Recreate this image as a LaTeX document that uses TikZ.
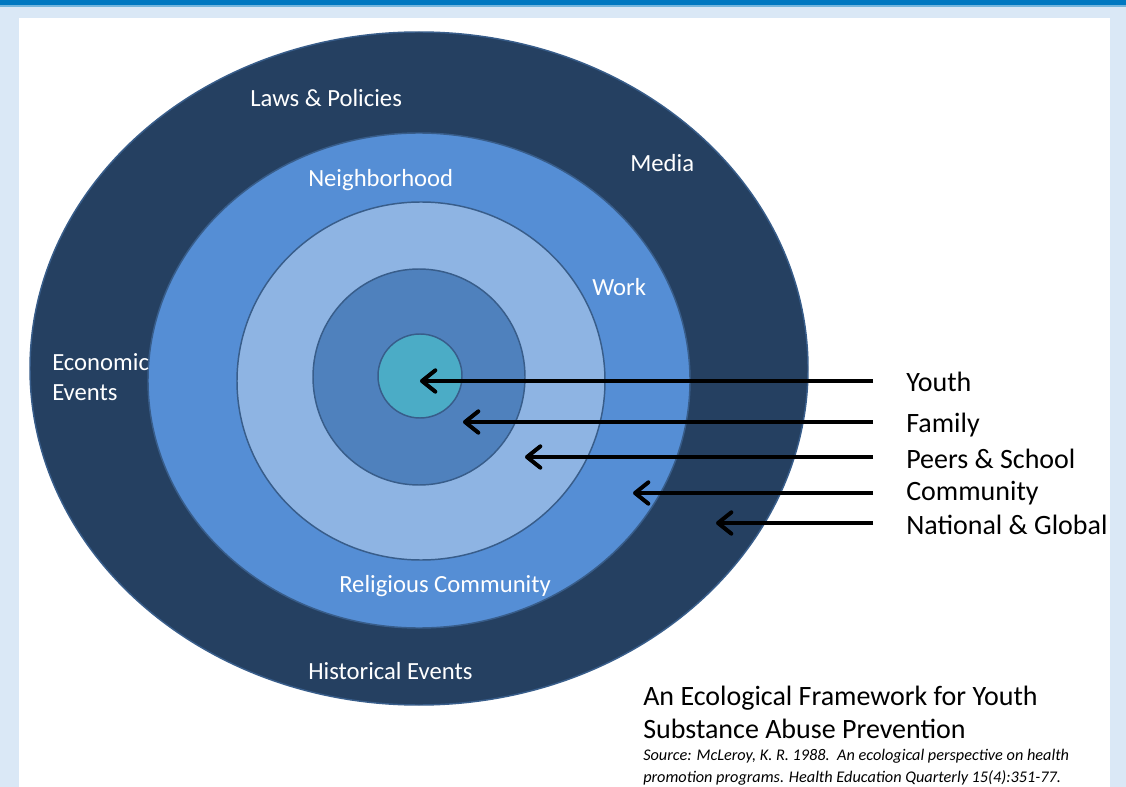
\documentclass[tikz,border=0pt]{standalone}
\usepackage{fontspec}
\setmainfont{Carlito}
\usetikzlibrary{arrows.meta}

\definecolor{barblue}{HTML}{0078C1}
\definecolor{panelbg}{HTML}{DAE8F6}
\definecolor{navy}{HTML}{254061}
\definecolor{midblue}{HTML}{558ED5}
\definecolor{paleblue}{HTML}{8EB4E3}
\definecolor{steelblue}{HTML}{4F81BD}
\definecolor{youthcol}{HTML}{4BACC6}
\definecolor{ringedge}{HTML}{385D8A}

\begin{document}
\begin{tikzpicture}[x=0.75pt, y=-0.75pt,
    ring/.style={draw=ringedge, line width=1.1pt},
    inlbl/.style={text=white, font=\fontsize{18.5}{22.5}\selectfont, inner sep=0pt, anchor=base west},
    lvl/.style={font=\fontsize{21}{25}\selectfont, inner sep=0pt, anchor=base west},
    arr/.style={line width=3pt, -{Straight Barb[length=10pt, width=16pt, round]}}]
    \useasboundingbox (0,0) rectangle (1126,787);

    % page frame
    \fill[panelbg] (0,0) rectangle (1126,787);
    \fill[barblue] (0,0) rectangle (1126,5.5);
    \fill[barblue!55] (0,5.5) rectangle (1126,7);
    \fill[white] (19,18) rectangle (1110,787);

    % nested rings, outside in
    \filldraw[ring, fill=navy] (419,368.5) ellipse [x radius=389, y radius=336.5];
    \filldraw[ring, fill=midblue] (419,380.5) ellipse [x radius=271, y radius=247.5];
    \filldraw[ring, fill=paleblue] (421,381) ellipse [x radius=184, y radius=179];
    \filldraw[ring, fill=steelblue] (419,377) ellipse [x radius=106, y radius=108];
    \filldraw[ring, fill=youthcol] (420,376) circle [radius=42];

    % labels inside the rings
    \node[inlbl] (laws) at (250,107) {Laws \& Policies};
    \node[inlbl] (media) at (630,172) {Media};
    \node[inlbl] (nbhd) at (308,187) {Neighborhood};
    \node[inlbl] (work) at (592,296) {Work};
    \node[inlbl, align=left] (econ) at (52,400) {Economic\\Events};
    \node[inlbl] (relig) at (339,592) {Religious Community};
    \node[inlbl] (hist) at (308,679) {Historical Events};

    % level names on the right
    \node[lvl] (youth) at (906,391) {Youth};
    \node[lvl] (family) at (906,432) {Family};
    \node[lvl] (peers) at (906,468) {Peers \& School};
    \node[lvl] (comm) at (906,500) {Community};
    \node[lvl] (natl) at (906,534) {National \& Global};

    % arrows into the rings
    \coordinate (youth-s) at (873,381);  \coordinate (youth-e) at (420,381);
    \coordinate (family-s) at (873,422); \coordinate (family-e) at (463,422);
    \coordinate (peers-s) at (873,457);  \coordinate (peers-e) at (525,457);
    \coordinate (comm-s) at (873,493);   \coordinate (comm-e) at (633,493);
    \coordinate (natl-s) at (873,523);   \coordinate (natl-e) at (716,523);
    \draw[arr] (youth-s) -- (youth-e);
    \draw[arr] (family-s) -- (family-e);
    \draw[arr] (peers-s) -- (peers-e);
    \draw[arr] (comm-s) -- (comm-e);
    \draw[arr] (natl-s) -- (natl-e);

    % title and source
    \node[lvl] (title1) at (643,705) {An Ecological Framework for Youth};
    \node[lvl] (title2) at (643,738) {Substance Abuse Prevention};
    \node[lvl, font=\fontsize{12.2}{14}\itshape] (src1) at (643,760) {Source: McLeroy, K. R. 1988.\ \ An ecological perspective on health};
    \node[lvl, font=\fontsize{12.2}{14}\itshape] (src2) at (643,782) {promotion programs. Health Education Quarterly 15(4):351-77.};
\end{tikzpicture}
\end{document}
